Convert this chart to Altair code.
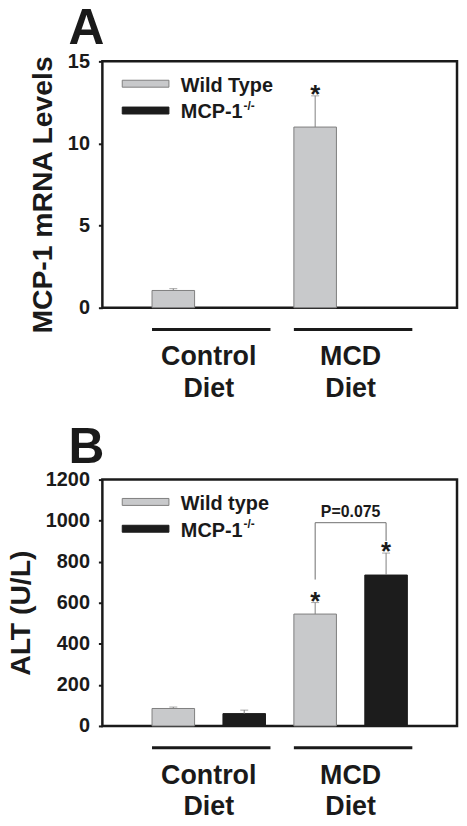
import altair as alt
import pandas as pd

# ---------------- data ----------------
group_labels = ["Control\nDiet", "MCD\nDiet"]

series_a = ["Wild Type", "MCP-1"]
a_wt = [1.05, 11.0]
a_wt_err = [0.11, 1.9]
a_ko = [0.0, 0.0]
a_ko_err = [0.0, 0.0]
a_star_wt = [False, True]
a_star_ko = [False, False]

series_b = ["Wild type", "MCP-1"]
b_wt = [85, 545]
b_wt_err = [7, 56]
b_ko = [60, 735]
b_ko_err = [17, 107]
b_star_wt = [False, True]
b_star_ko = [False, True]

# bracket between MCD wild type and MCD knockout (panel B)
b_bracket_left_bottom = 713
b_bracket_right_bottom = 901
b_bracket_top = 990
b_bracket_label = "P=0.075"

# ---------------- style ----------------
FONT = "Liberation Sans"
INK = "#1a1a1a"
GRAY_FILL = "#c8c9cb"
GRAY_EDGE = "#7f7f7f"
BLACK_FILL = "#1c1c1c"
W, H = 357, 248
BAR_HALF = 0.3


def build_df(series, wt, wt_err, ko, ko_err, star_wt, star_ko):
    rows = []
    for g in range(len(group_labels)):
        for s, (vals, errs, stars) in enumerate(
            [(wt, wt_err, star_wt), (ko, ko_err, star_ko)]
        ):
            pos = g * 2 + s + 1
            rows.append(
                dict(
                    series=series[s],
                    pos=pos,
                    x0=pos - BAR_HALF,
                    x1=pos + BAR_HALF,
                    value=vals[g],
                    err=errs[g],
                    top=vals[g] + errs[g],
                    star=stars[g],
                )
            )
    return pd.DataFrame(rows)


def group_df():
    rows = []
    for g, lab in enumerate(group_labels):
        first = g * 2 + 1
        last = g * 2 + 2
        rows.append(
            dict(label=lab, gstart=first - BAR_HALF, gend=last + BAR_HALF + 0.07,
                 gcenter=(first + last) / 2)
        )
    return pd.DataFrame(rows)


def panel(letter, ytitle, ymax, ystep, series, df, bracket=None):
    xs = alt.Scale(domain=[0, 5])
    ys = alt.Scale(domain=[0, ymax], nice=False)
    fill_scale = alt.Scale(domain=series, range=[GRAY_FILL, BLACK_FILL])
    stroke_scale = alt.Scale(domain=series, range=[GRAY_EDGE, BLACK_FILL])

    base = alt.Chart(df)

    bars = base.mark_bar(strokeWidth=1).encode(
        x=alt.X("x0:Q", scale=xs, axis=None),
        x2="x1:Q",
        y=alt.Y(
            "value:Q",
            scale=ys,
            axis=alt.Axis(
                values=list(range(0, ymax + 1, ystep)),
                format="d",
                title=ytitle,
                titleFont=FONT,
                titleFontSize=28.5,
                titleFontWeight="bold",
                titleColor=INK,
                titlePadding=10,
                titleY=134,
                labelFont=FONT,
                labelFontSize=20,
                labelFontWeight="bold",
                labelColor=INK,
                labelPadding=9,
                tickSize=4,
                tickWidth=2,
                tickColor=INK,
                domain=False,
                grid=False,
            ),
        ),
        y2=alt.datum(0),
        fill=alt.Fill("series:N", scale=fill_scale, legend=None),
        stroke=alt.Stroke("series:N", scale=stroke_scale, legend=None),
    )

    err_base = base.transform_filter("datum.err > 0")
    err_line = err_base.mark_rule(color=GRAY_EDGE, strokeWidth=1).encode(
        x=alt.X("pos:Q", scale=xs), y=alt.Y("value:Q", scale=ys), y2="top:Q"
    )
    err_cap = err_base.mark_tick(
        orient="horizontal", size=8, thickness=1, color=GRAY_EDGE
    ).encode(x=alt.X("pos:Q", scale=xs), y=alt.Y("top:Q", scale=ys))

    stars = base.transform_filter("datum.star").mark_text(
        text="*", font=FONT, fontSize=26, fontWeight="bold", color=INK,
        baseline="alphabetic", dy=7,
    ).encode(x=alt.X("pos:Q", scale=xs), y=alt.Y("top:Q", scale=ys))

    gdf = group_df()
    gbase = alt.Chart(gdf)
    glines = gbase.mark_rule(strokeWidth=3, color=INK).encode(
        x=alt.X("gstart:Q", scale=xs), x2="gend:Q", y=alt.value(H + 22)
    )
    gtext = gbase.mark_text(
        font=FONT, fontSize=27, fontWeight="bold", color=INK,
        lineBreak="\n", lineHeight=32, baseline="alphabetic",
    ).encode(x=alt.X("gcenter:Q", scale=xs), y=alt.value(H + 58), text="label:N")

    # panel letter
    letter_mark = alt.Chart(pd.DataFrame({"t": [letter]})).mark_text(
        font=FONT, fontSize=50, fontWeight="bold", color=INK,
        align="left", baseline="alphabetic",
    ).encode(x=alt.value(-34), y=alt.value(-17), text="t:N")

    layers = [bars, err_line, err_cap, stars, glines, gtext, letter_mark]

    # legend (drawn manually to allow the superscript)
    colors = [(GRAY_FILL, GRAY_EDGE), (BLACK_FILL, BLACK_FILL)]
    for i, name in enumerate(series):
        ldf = pd.DataFrame({"name": [name]})
        layers.append(
            alt.Chart(ldf).mark_rect(
                fill=colors[i][0], stroke=colors[i][1], strokeWidth=1
            ).encode(
                x=alt.value(20), x2=alt.value(67),
                y=alt.value(19 + 27 * i), y2=alt.value(26 + 27 * i),
            )
        )
        layers.append(
            alt.Chart(ldf).mark_text(
                font=FONT, fontSize=20, fontWeight="bold", color=INK,
                align="left", baseline="alphabetic",
            ).encode(x=alt.value(79), y=alt.value(30.5 + 27 * i), text="name:N")
        )
    sup = pd.DataFrame({"t": ["-/-"]})
    layers.append(
        alt.Chart(sup).mark_text(
            font=FONT, fontSize=12, fontWeight="bold", color=INK,
            align="left", baseline="alphabetic",
        ).encode(x=alt.value(142), y=alt.value(48.5), text="t:N")
    )

    if bracket is not None:
        xl, xr, yl, yr, yt, lab = bracket
        bdf = pd.DataFrame(
            dict(x=[xl, xr, xl], x2=[xl, xr, xr], y=[yl, yr, yt], y2=[yt, yt, yt])
        )
        layers.append(
            alt.Chart(bdf).mark_rule(color="#6f6f6f", strokeWidth=1).encode(
                x=alt.X("x:Q", scale=xs), x2="x2:Q",
                y=alt.Y("y:Q", scale=ys), y2="y2:Q",
            )
        )
        tdf = pd.DataFrame(dict(x=[(xl + xr) / 2], y=[yt], t=[lab]))
        layers.append(
            alt.Chart(tdf).mark_text(
                font=FONT, fontSize=16, fontWeight="bold", color=INK,
                baseline="alphabetic", dy=-6,
            ).encode(x=alt.X("x:Q", scale=xs), y=alt.Y("y:Q", scale=ys), text="t:N")
        )

    return alt.layer(*layers).properties(width=W, height=H)


df_a = build_df(series_a, a_wt, a_wt_err, a_ko, a_ko_err, a_star_wt, a_star_ko)
df_b = build_df(series_b, b_wt, b_wt_err, b_ko, b_ko_err, b_star_wt, b_star_ko)

pa = panel("A", "MCP-1 mRNA Levels", 15, 5, series_a, df_a)
pb = panel(
    "B", "ALT (U/L)", 1200, 200, series_b, df_b,
    bracket=(3, 4, b_bracket_left_bottom, b_bracket_right_bottom, b_bracket_top,
             b_bracket_label),
)

chart = (
    alt.vconcat(pa, pb, spacing=17)
    .resolve_scale(x="independent", y="independent", fill="independent",
                   stroke="independent")
    .configure(padding={"top": -8, "left": -3, "right": 0, "bottom": 0})
    .configure_view(stroke=INK, strokeWidth=2.5)
)

chart.save("out.html", embed_options={"renderer": "svg", "actions": False})
